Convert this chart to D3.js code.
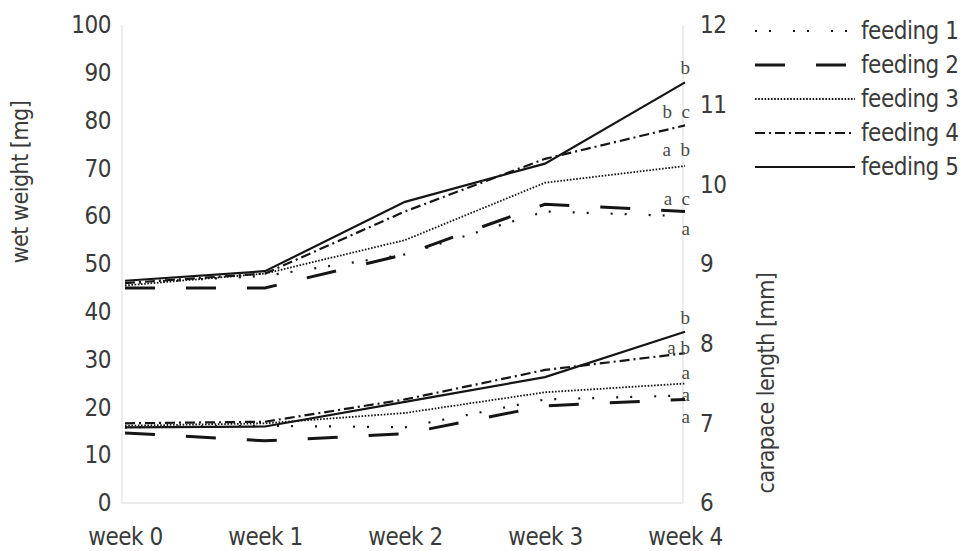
<!DOCTYPE html>
<html>
<head>
<meta charset="utf-8">
<script src="https://cdn.jsdelivr.net/npm/d3@7"></script>
<style>
  html, body { margin: 0; padding: 0; background: #fff; }
  svg { display: block; }
  .tick text, .lbl { font-family: "DejaVu Sans", sans-serif; font-stretch: condensed; letter-spacing: -0.5px; fill: #3a3a3a; }
  .sig { font-family: "Liberation Serif", "DejaVu Serif", serif; fill: #4a4a4a; white-space: pre; }
</style>
</head>
<body>
<svg id="chart" width="968" height="551"></svg>
<script>
// Sampling weeks
const weeks = ["week 0", "week 1", "week 2", "week 3", "week 4"];
const feedings = ["feeding 1", "feeding 2", "feeding 3", "feeding 4", "feeding 5"];

// Wet weight [mg] per feeding regime (left axis)
const weight1 = [46, 47.5, 52, 61, 60];
const weight2 = [45, 45, 52, 62.5, 61];
const weight3 = [45.5, 48, 55, 67, 70.5];
const weight4 = [46, 48, 61, 72, 79];
const weight5 = [46.5, 48.5, 63, 71, 88];

// Carapace length [mm] per feeding regime (right axis)
const length1 = [6.95, 6.97, 6.95, 7.3, 7.35];
const length2 = [6.88, 6.78, 6.87, 7.22, 7.3];
const length3 = [6.97, 7.0, 7.13, 7.39, 7.5];
const length4 = [7.0, 7.02, 7.3, 7.67, 7.88];
const length5 = [6.95, 6.96, 7.27, 7.58, 8.15];

// Significance letters at week 4 (feeding 1..5)
const weightLetters = ["a", "a  c", "a  b", "b  c", "b"];
const lengthLetters = ["a", "a", "a", "a b", "b"];

// Axis ticks
const weightTicks = [0, 10, 20, 30, 40, 50, 60, 70, 80, 90, 100];
const lengthTicks = [6, 7, 8, 9, 10, 11, 12];

const weightSeries = [weight1, weight2, weight3, weight4, weight5];
const lengthSeries = [length1, length2, length3, length4, length5];

// Line style per feeding
const styles = [
  { dash: "2,12,2,22", width: 2.2 },
  { dash: "30,31", width: 3 },
  { dash: "1.6,1.6", width: 1.8 },
  { dash: "10,4,2,4", width: 2.2 },
  { dash: null, width: 2.2 }
];
// Letter offsets (px) relative to each line end
const weightOffsets = [12, -13, -17, -14, -15];
const lengthOffsets = [-1, 17, -11, -6, -14];

const svg = d3.select("#chart");
const plotLeft = 122, plotRight = 683, plotTop = 25, plotBottom = 503;

const x = d3.scalePoint().domain(weeks).range([125, 685]);
const yL = d3.scaleLinear().domain([0, 100]).range([plotBottom, plotTop]);
const yR = d3.scaleLinear().domain([6, 12]).range([plotBottom, plotTop]);

// Plot frame lines
const frame = svg.append("g").attr("stroke", "#dadada").attr("stroke-width", 1);
frame.append("line").attr("x1", plotLeft).attr("x2", plotLeft).attr("y1", plotTop).attr("y2", plotBottom);
frame.append("line").attr("x1", plotRight).attr("x2", plotRight).attr("y1", plotTop).attr("y2", plotBottom);
frame.append("line").attr("x1", plotLeft).attr("x2", plotRight).attr("y1", plotBottom).attr("y2", plotBottom);

// Left axis
const gL = svg.append("g").attr("transform", `translate(${plotLeft},0)`)
  .call(d3.axisLeft(yL).tickValues(weightTicks).tickSize(0).tickPadding(11));
gL.select(".domain").remove();
gL.selectAll("text").attr("font-size", 24);

// Right axis
const gR = svg.append("g").attr("transform", `translate(${plotRight},0)`)
  .call(d3.axisRight(yR).tickValues(lengthTicks).tickFormat(d3.format("d")).tickSize(0).tickPadding(17));
gR.select(".domain").remove();
gR.selectAll("text").attr("font-size", 24);

// Bottom axis
const gB = svg.append("g").attr("transform", `translate(0,${plotBottom})`)
  .call(d3.axisBottom(x).tickSize(0).tickPadding(34));
gB.select(".domain").remove();
gB.selectAll("text").attr("font-size", 24).attr("dy", "0.35em");

// Axis titles
svg.append("text").attr("class", "lbl").attr("font-size", 23)
  .attr("transform", "translate(28,182) rotate(-90)").attr("text-anchor", "middle")
  .text("wet weight [mg]");
svg.append("text").attr("class", "lbl").attr("font-size", 23)
  .attr("transform", "translate(774,383) rotate(-90)").attr("text-anchor", "middle")
  .text("carapace length [mm]");

function drawGroup(series, y, letters, offsets) {
  const line = d3.line().x((d, i) => x(weeks[i])).y(d => y(d));
  series.forEach((vals, k) => {
    svg.append("path")
      .datum(vals)
      .attr("fill", "none")
      .attr("stroke", "#151515")
      .attr("stroke-width", styles[k].width)
      .attr("stroke-dasharray", styles[k].dash)
      .attr("d", line);
    svg.append("text").attr("class", "sig")
      .attr("x", 690)
      .attr("y", y(vals[vals.length - 1]) + offsets[k])
      .attr("dy", "0.35em")
      .attr("text-anchor", "end")
      .attr("font-size", 19)
      .text(letters[k]);
  });
}
drawGroup(weightSeries, yL, weightLetters, weightOffsets);
drawGroup(lengthSeries, yR, lengthLetters, lengthOffsets);

// Legend
const legend = svg.append("g");
feedings.forEach((name, k) => {
  const ly = 31 + k * 34;
  legend.append("line")
    .attr("x1", 755).attr("x2", 855).attr("y1", ly).attr("y2", ly)
    .attr("stroke", "#151515")
    .attr("stroke-width", styles[k].width)
    .attr("stroke-dasharray", styles[k].dash);
  legend.append("text").attr("class", "lbl")
    .attr("x", 861).attr("y", ly).attr("dy", "0.35em")
    .attr("font-size", 24)
    .text(name);
});
</script>
</body>
</html>
